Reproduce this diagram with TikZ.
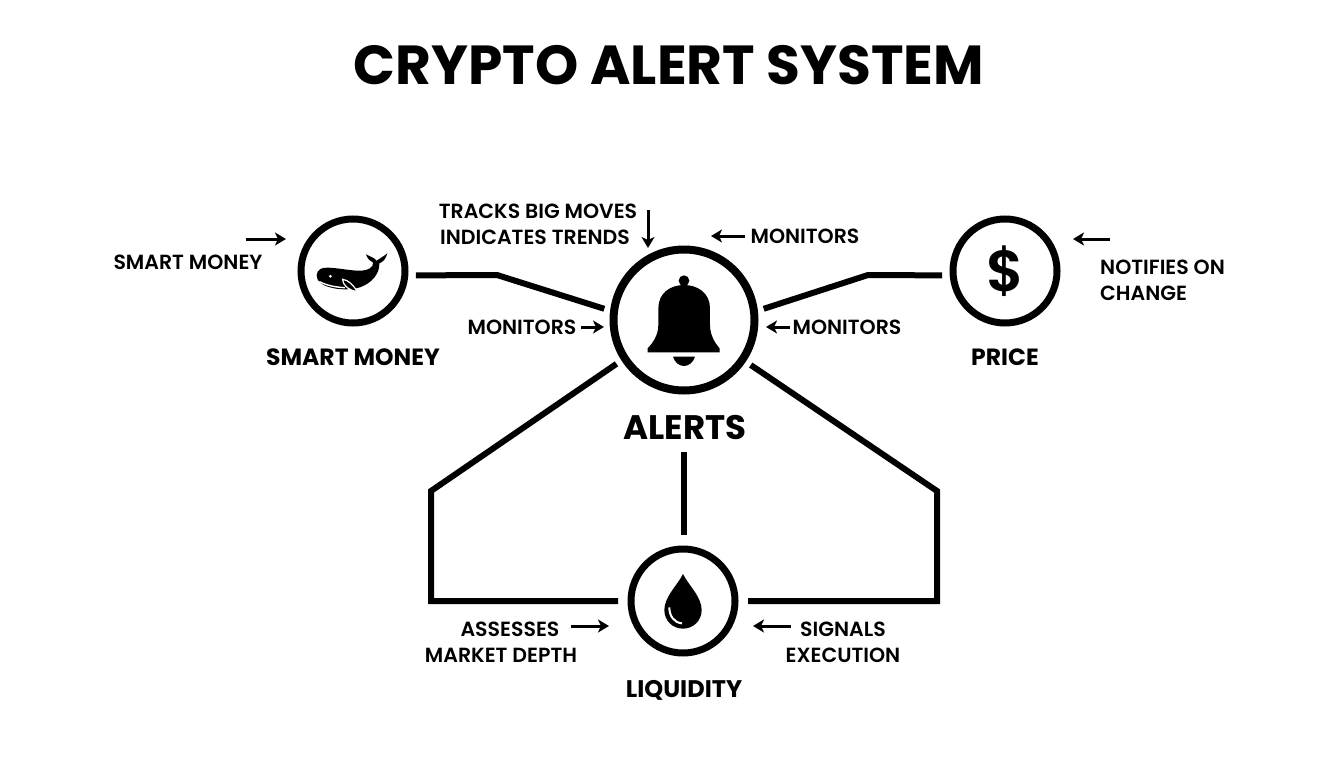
\documentclass[tikz,border=0pt]{standalone}
\usepackage{fontspec}
\setmainfont{Poppins}
\newfontfamily\titlefont{Poppins}[UprightFont=* Bold]
\newfontfamily\labfont{Poppins}[UprightFont=* SemiBold]
\newfontfamily\headfont{Poppins}[UprightFont=* Bold]
\usetikzlibrary{arrows.meta}
\tikzset{
  ring/.style={circle,draw=black,line width=7pt,minimum size=104pt,inner sep=0pt,outer sep=11pt},
  dropring/.style={circle,draw=black,line width=7pt,minimum size=104pt,inner sep=0pt,outer sep=13pt},
  bigring/.style={circle,draw=black,line width=8pt,minimum size=141pt,inner sep=0pt,outer sep=10pt},
  link/.style={line width=6pt,black,line cap=butt,line join=miter},
  small/.style={line width=3pt,black,-{Stealth[length=11pt,width=13pt,inset=3pt]}},
  lab/.style={font=\labfont\fontsize{20.5}{24}\selectfont,inner sep=0pt,text=black},
  head/.style={font=\headfont\fontsize{23.5}{27}\selectfont,inner sep=0pt,text=black}
}
\begin{document}
\begin{tikzpicture}[x=1pt,y=-1pt]
\useasboundingbox (0,0) rectangle (1344,768);
\fill[white] (0,0) rectangle (1344,768);
\node[font=\titlefont\fontsize{55}{58}\selectfont,inner sep=0pt] (title) at (669,65) {CRYPTO ALERT SYSTEM};
% rings
\node[ring] (whale) at (353,271) {};
\node[bigring] (bell) at (684,320) {};
\node[ring] (price) at (1005,271) {};
\node[dropring] (drop) at (683,601) {};
% whale icon
\begin{scope}[shift={(280,200)},x=0.3333pt,y=-0.3333pt]
\fill[black] (110,225) .. controls (112,208) and (125,202) .. (145,203)
  .. controls (175,204) and (210,212) .. (238,212)
  .. controls (262,212) and (282,203) .. (279,187)
  .. controls (268,182) and (262,175) .. (258,163)
  .. controls (270,170) and (282,172) .. (290,182)
  .. controls (300,175) and (312,168) .. (322,160)
  .. controls (318,175) and (310,186) .. (298,190)
  .. controls (300,220) and (275,250) .. (240,262)
  .. controls (215,270) and (175,270) .. (150,262)
  .. controls (125,255) and (110,245) .. (110,225) -- cycle;
\fill[white] (151,229) circle (4.5);
\draw[white,line width=1.4pt] (118,245) .. controls (145,258) and (170,262) .. (195,263);
\fill[black,draw=white,line width=1.2pt] (188,238) .. controls (205,240) and (220,255) .. (232,275) .. controls (210,272) and (190,260) .. (188,238) -- cycle;
\end{scope}
% bell icon
\begin{scope}[shift={(600,230)},x=0.3333pt,y=-0.3333pt]
\fill[black] (252,152) circle (16);
\fill[black] (175,235) .. controls (175,190) and (210,165) .. (252,165)
  .. controls (294,165) and (330,190) .. (330,235)
  -- (330,285) .. controls (330,315) and (345,340) .. (359,355)
  -- (359,367) -- (143,367) -- (143,355)
  .. controls (158,340) and (175,315) .. (175,285) -- cycle;
\fill[black] (219,380) -- (285,380) .. controls (280,398) and (265,408) .. (252,408) .. controls (238,408) and (224,398) .. (219,380) -- cycle;
\end{scope}
% drop icon
\begin{scope}[shift={(610,530)},x=0.3333pt,y=-0.3333pt]
\fill[black] (219,132) .. controls (235,165) and (275,200) .. (275,240)
  .. controls (275,272) and (250,296) .. (219,296)
  .. controls (188,296) and (163,272) .. (163,240)
  .. controls (163,200) and (203,165) .. (219,132) -- cycle;
\draw[white,line width=2pt] (178,232) .. controls (178,258) and (192,278) .. (216,280);
\end{scope}
% dollar
\node[font=\labfont\fontsize{58}{60}\selectfont,inner sep=0pt] (dollar) at (1005,271) {\$};
% labels
\node[lab] (smartL) at (188,262) {SMART MONEY};
\node[head] (smartH) at (353,357) {SMART MONEY};
\node[lab] (tracks) at (538,211) {TRACKS BIG MOVES};
\node[lab] (trends) at (535,237) {INDICATES TRENDS};
\node[lab] (monTR) at (805,236) {MONITORS};
\node[lab] (monL) at (522,327) {MONITORS};
\node[lab] (monR) at (847,327) {MONITORS};
\node[lab,anchor=west] (notify) at (1100,267) {NOTIFIES ON};
\node[lab,anchor=west] (change) at (1100,293) {CHANGE};
\node[head] (priceL) at (1005,357) {PRICE};
\node[font=\headfont\fontsize{34}{37}\selectfont,inner sep=0pt] (alerts) at (685,428) {ALERTS};
\node[lab] (assess) at (510,629) {ASSESSES};
\node[lab] (depth) at (501,655) {MARKET DEPTH};
\node[lab] (signals) at (843,629) {SIGNALS};
\node[lab] (exec) at (843,655) {EXECUTION};
\node[font=\headfont\fontsize{24}{27}\selectfont,inner sep=0pt] (liq) at (684,690) {LIQUIDITY};
% connector bends
\coordinate (wb) at (497,275);
\coordinate (pb) at (868,275);
\coordinate (la) at (431,491);
\coordinate (lb) at (431,601);
\coordinate (ra) at (937,491);
\coordinate (rb) at (937,601);
\coordinate (ctop) at (684,452);
\coordinate (cbot) at (684,535);
% connectors
\draw[link] (whale.-4) -- (wb) -- (bell.172);
\draw[link] (price.184) -- (pb) -- (bell.8);
\draw[link] (bell.213.5) -- (la) -- (lb) -- (drop.180);
\draw[link] (bell.-34) -- (ra) -- (rb) -- (drop.0);
\draw[link] (ctop) -- (cbot);
% small arrows
\coordinate (a1s) at (246,239); \coordinate (a1e) at (286,239);
\coordinate (a2s) at (648,210); \coordinate (a2e) at (648,248);
\coordinate (a3s) at (745,236); \coordinate (a3e) at (711,236);
\coordinate (a4s) at (1110,239); \coordinate (a4e) at (1073,239);
\coordinate (a5s) at (581,327); \coordinate (a5e) at (604,327);
\coordinate (a6s) at (790,327); \coordinate (a6e) at (766,327);
\coordinate (a7s) at (571,626); \coordinate (a7e) at (609,626);
\coordinate (a8s) at (791,626); \coordinate (a8e) at (753,626);
\foreach \n in {1,...,8} {\draw[small] (a\n s) -- (a\n e);}
\end{tikzpicture}
\end{document}
